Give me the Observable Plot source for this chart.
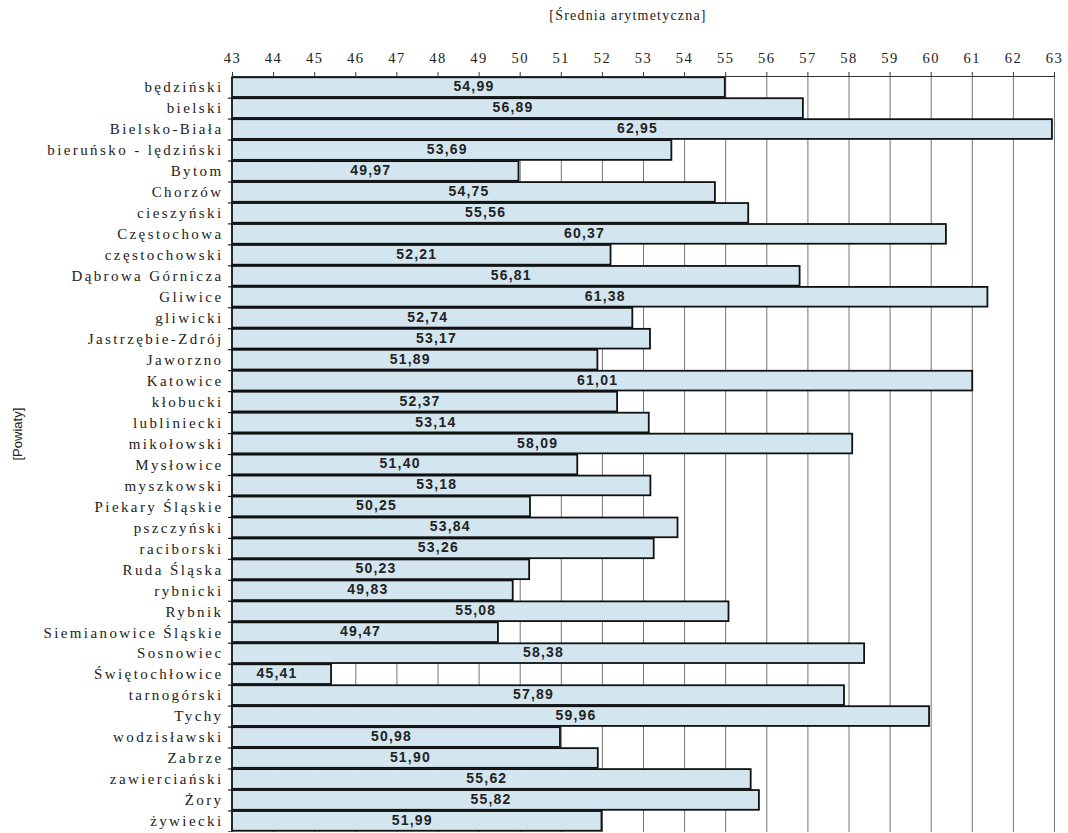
<!DOCTYPE html>
<html>
<head>
<meta charset="utf-8">
<script src="https://cdn.jsdelivr.net/npm/d3@7"></script>
<script src="https://cdn.jsdelivr.net/npm/@observablehq/plot@0.6"></script>
<style>
  body { margin: 0; background: #fff; }
  #title { position: relative; height: 34px; }
  #title span { position: absolute; left: 628px; top: 8px; transform: translateX(-50%);
           font-family: "Liberation Serif", "DejaVu Serif", serif; font-size: 14px;
           letter-spacing: 1.2px; color: #222; white-space: nowrap; }
</style>
</head>
<body>
<div id="title"><span>[Średnia arytmetyczna]</span></div>
<div id="chart"></div>
<script>
const categories = ["będziński","bielski","Bielsko-Biała","bieruńsko - lędziński","Bytom","Chorzów","cieszyński","Częstochowa","częstochowski","Dąbrowa Górnicza","Gliwice","gliwicki","Jastrzębie-Zdrój","Jaworzno","Katowice","kłobucki","lubliniecki","mikołowski","Mysłowice","myszkowski","Piekary Śląskie","pszczyński","raciborski","Ruda Śląska","rybnicki","Rybnik","Siemianowice Śląskie","Sosnowiec","Świętochłowice","tarnogórski","Tychy","wodzisławski","Zabrze","zawierciański","Żory","żywiecki"];
const values = [54.99,56.89,62.95,53.69,49.97,54.75,55.56,60.37,52.21,56.81,61.38,52.74,53.17,51.89,61.01,52.37,53.14,58.09,51.40,53.18,50.25,53.84,53.26,50.23,49.83,55.08,49.47,58.38,45.41,57.89,59.96,50.98,51.90,55.62,55.82,51.99];
const xTicks = d3.range(43, 64);
const xMin = 43, xMax = 63;
const yLabel = "[Powiaty]";

const data = categories.map((c, i) => ({name: c, value: values[i]}));
const fmt = v => v.toFixed(2).replace(".", ",");
const SERIF = '"Liberation Serif", "DejaVu Serif", serif';
const SANS = '"Liberation Sans", Arial, sans-serif';

const chart = Plot.plot({
  width: 1068,
  height: 798,
  marginLeft: 232,
  marginRight: 14,
  marginTop: 42,
  marginBottom: 0,
  style: {fontFamily: SERIF, fontSize: "14px", color: "#222", background: "#fff"},
  x: {domain: [xMin, xMax], axis: null},
  y: {domain: categories, padding: 0.06, axis: null},
  marks: [
    Plot.ruleX(xTicks, {stroke: "#666", strokeWidth: 0.9}),
    Plot.axisX(xTicks, {anchor: "top", tickSize: 5, tickPadding: 9, fontSize: 14.5, fontFamily: SERIF, stroke: "#333", label: null, tickFormat: d => d, className: "xt"}),
    Plot.ruleY(categories, {y: d => d, x1: xMin - 0.1, x2: xMin, dy: 10.5, stroke: "#222", strokeWidth: 1.2}),
    Plot.barX(data, {x1: xMin, x2: "value", y: "name", fill: "#d3e6f0", stroke: "#111", strokeWidth: 1.8}),
    Plot.axisY(categories, {anchor: "left", tickSize: 0, tickPadding: 9, fontSize: 15, fontFamily: SERIF, label: null, className: "yt"}),
    Plot.text(data, {x: d => (xMin + d.value) / 2, y: "name", text: d => fmt(d.value),
      fontFamily: SANS, fontWeight: "bold", fontSize: 14, fill: "#222", dx: -5, dy: -1, className: "vl"}),
    Plot.text([yLabel], {frameAnchor: "left", dx: -215, dy: 6, rotate: -90,
      fontFamily: SANS, fontSize: 13, fill: "#222"}),
    Plot.frame({anchor: "top", stroke: "#333", strokeWidth: 1.2})
  ]
});
chart.querySelectorAll("g.yt text").forEach(t => t.style.letterSpacing = "2.4px");
chart.querySelectorAll("g.xt text").forEach(t => t.style.letterSpacing = "1.5px");
chart.querySelectorAll("g.vl text").forEach(t => t.style.letterSpacing = "1.2px");
document.getElementById("chart").appendChild(chart);
</script>
</body>
</html>
